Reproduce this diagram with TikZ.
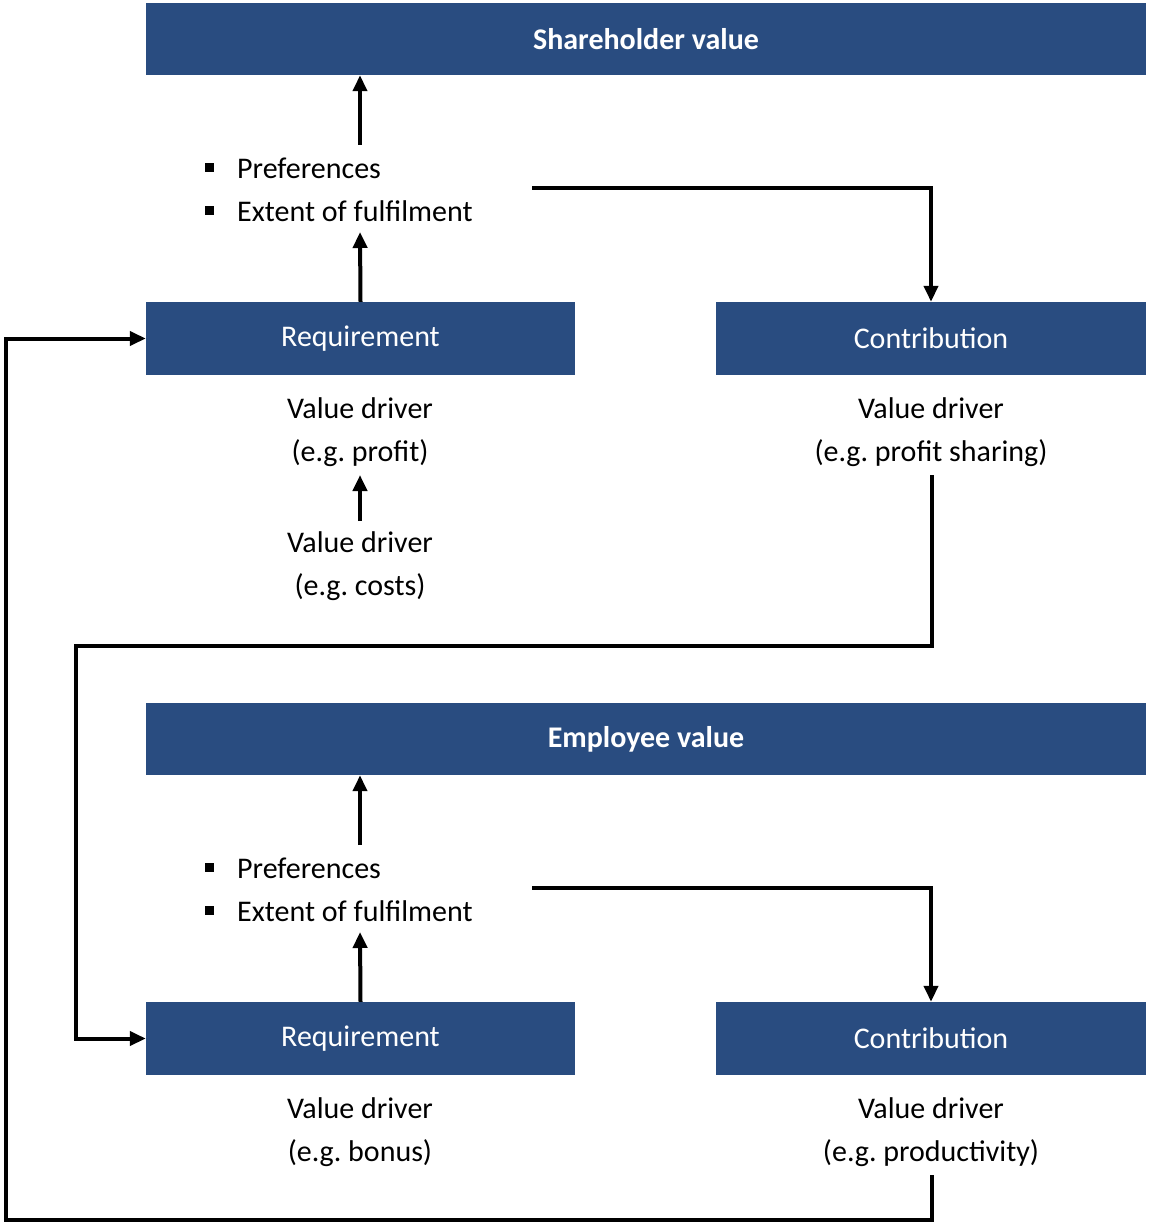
\documentclass[tikz,border=0pt]{standalone}
\usepackage{fontspec}
\setmainfont{Carlito}
\usetikzlibrary{arrows.meta}
\definecolor{boxblue}{HTML}{294C80}
\begin{document}
\begin{tikzpicture}[x=1pt,y=-1pt,
  box/.style={fill=boxblue,draw=none,text=white,font=\fontsize{30}{36}\selectfont,inner sep=0},
  lbl/.style={align=center,font=\fontsize{30}{43}\selectfont,inner sep=0},
  con/.style={line width=4pt,-{Triangle[length=16pt,width=14pt]}}]
\useasboundingbox (0,0) rectangle (1150,1225);
\foreach \o/\top/\req/\con/\rq/\cn in {0/Shareholder value/profit/profit sharing/r1/c1, 700/Employee value/bonus/productivity/r2/c2}{
  \node[box,minimum width=1000pt,minimum height=72pt,font=\fontsize{30}{36}\selectfont\bfseries] (top\o) at (646,39+\o) {\top};
  \node[box,minimum width=429pt,minimum height=73pt] (\rq) at (360.5,338.5+\o) {Requirement};
  \node[box,minimum width=430pt,minimum height=73pt] (\cn) at (931,338.5+\o) {Contribution};
  \node[lbl,anchor=west] (pf\o) at (237,168+\o) {Preferences};
  \node[lbl,anchor=west] (ex\o) at (237,211+\o) {Extent of fulfilment};
  \fill (205,163+\o) rectangle (214,172+\o);
  \fill (205,206+\o) rectangle (214,215+\o);
  \coordinate (ptop\o) at (360,145+\o);
  \coordinate (pbot\o) at (360,232+\o);
  \coordinate (pr\o) at (532,188+\o);
  \draw[con] (ptop\o) -- (top\o.south -| ptop\o);
  \draw[con] (\rq.north) -- (pbot\o);
  \draw[con] (pr\o) -| (\cn.north);
  \node[lbl] (vr\o) at (360,432+\o) {Value driver\\(e.g.~\req)};
  \node[lbl] (vc\o) at (931,432+\o) {Value driver\\(e.g.~\con)};
}
\node[lbl] (vcost) at (360,566) {Value driver\\(e.g.~costs)};
\draw[con] (360,521) -- (360,475);
\coordinate (a1) at (932,475);
\coordinate (a2) at (76,646);
\draw[con,rounded corners=0] (a1) -- (932,646) -- (a2) |- (r2.west);
\coordinate (b1) at (932,1175);
\coordinate (b2) at (6,1220);
\draw[con] (b1) |- (b2) |- (r1.west);
\end{tikzpicture}
\end{document}
